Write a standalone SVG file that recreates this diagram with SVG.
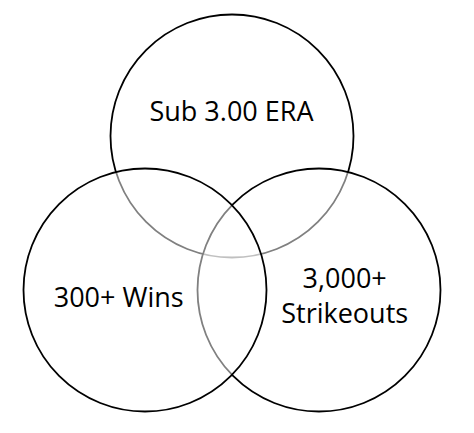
<svg xmlns="http://www.w3.org/2000/svg" width="474" height="433" viewBox="0 0 474 433">
<style>
.c{fill:#fff;fill-opacity:0.5;stroke:#000;stroke-width:1.8}
.t{font-family:"Open Sans","Noto Sans",sans-serif;font-size:27px;fill:#000;text-anchor:middle}
</style>
<rect width="474" height="433" fill="#fff"/>
<g id="era"><circle class="c" cx="232" cy="136" r="121.5"/></g>
<g id="strikeouts"><circle class="c" cx="319" cy="290" r="121.5"/></g>
<g id="wins"><circle class="c" cx="145" cy="290" r="121.5"/></g>
<g id="connectors"/>
<g id="labels">
<text class="t" x="231.5" y="120.5">Sub 3.00 ERA</text>
<text class="t" x="118.7" y="306.7">300+ Wins</text>
<text class="t" x="344.7" y="288.3">3,000+</text>
<text class="t" x="344.7" y="323.3">Strikeouts</text>
</g>
</svg>
